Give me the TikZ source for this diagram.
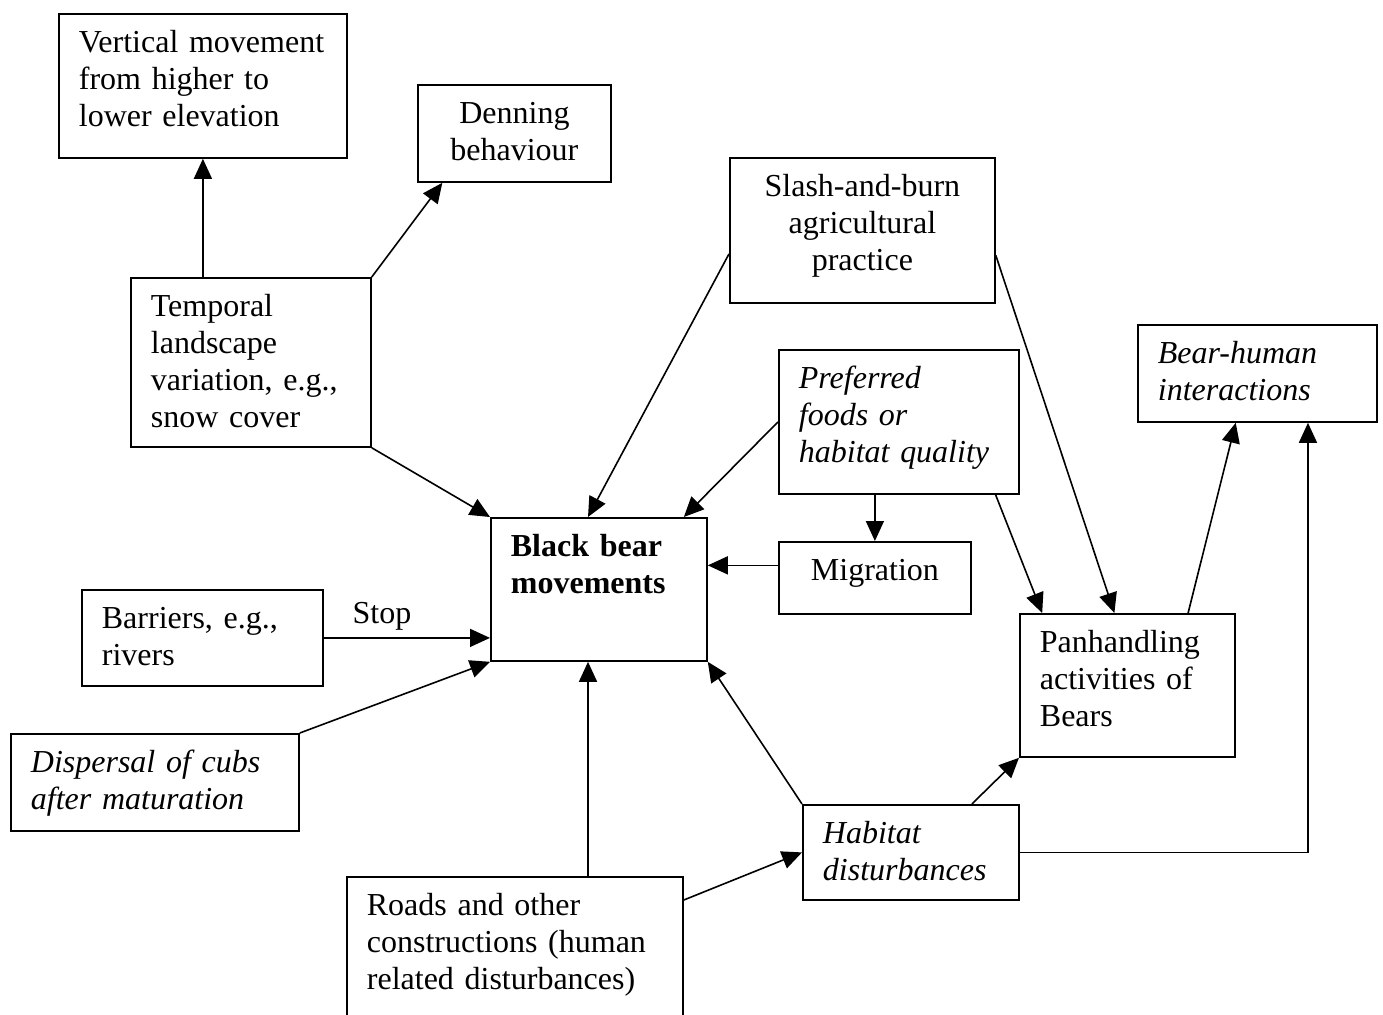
\documentclass[tikz,border=0pt]{standalone}
\usepackage{fontspec}
\setmainfont{Liberation Serif}
\usetikzlibrary{arrows.meta,calc}
\begin{document}
\begin{tikzpicture}[x=0.5pt,y=-0.5pt,
        every node/.style={font=\fontsize{16}{18.4}\selectfont},
        blk/.style={draw,line width=0.9pt,anchor=north west,inner xsep=10pt,inner ysep=0pt,align=left,text height=19.5pt},
        arr/.style={line width=0.8pt,-{Triangle[length=10pt,width=9pt]}}]
        \useasboundingbox (0,0) rectangle (1383,1014);

        \node[blk,text width=124pt,text depth=52.5pt] (vert) at (58,13) {Vertical movement\\from higher to\\lower elevation};
        \node[blk,align=center,text width=76.5pt,text depth=29pt] (den) at (417,84) {Denning\\behaviour};
        \node[blk,text width=100pt,text depth=65pt] (temp) at (130,277) {Temporal\\landscape\\variation, e.g.,\\snow cover};
        \node[blk,align=center,text width=112.5pt,text depth=53pt] (slash) at (729,157) {Slash-and-burn\\agricultural\\practice};
        \node[blk,text width=100pt,text depth=52.5pt,font=\fontsize{16}{18.4}\selectfont\itshape] (pref) at (778,349) {Preferred\\foods or\\habitat quality};
        \node[blk,text width=99.5pt,text depth=29pt,font=\fontsize{16}{18.4}\selectfont\itshape] (bh) at (1137,324) {Bear-human\\interactions};
        \node[blk,text width=88pt,text depth=52pt,font=\fontsize{16}{18.4}\selectfont\bfseries] (bbm) at (490,517) {Black bear\\movements};
        \node[blk,align=center,text width=76pt,text depth=16.5pt] (mig) at (778,541) {Migration};
        \node[blk,text width=100.5pt,text depth=28.5pt] (bar) at (81,589) {Barriers, e.g.,\\rivers};
        \node[blk,text width=87.5pt,text depth=52pt] (pan) at (1019,613) {Panhandling\\activities of\\Bears};
        \node[blk,text width=124pt,text depth=29pt,font=\fontsize{16}{18.4}\selectfont\itshape] (disp) at (10,733) {Dispersal of cubs\\after maturation};
        \node[blk,text width=88pt,text depth=28pt,font=\fontsize{16}{18.4}\selectfont\itshape] (hab) at (802,804) {Habitat\\disturbances};
        \node[blk,text width=148pt,text depth=58pt] (roads) at (346,876) {Roads and other\\constructions (human\\related disturbances)};

        \coordinate (migout) at ($(mig.north west)!0.33!(mig.south west)$);
        \coordinate (bbmin) at ($(bbm.south west)!0.45!(bbm.south east)$);

        \draw[arr] (temp.north -| vert.south) -- (vert.south);
        \draw[arr] (temp.north east) -- ($(den.south west)!0.13!(den.south east)$);
        \draw[arr] (temp.south east) -- (bbm.north west);
        \draw[arr] ($(slash.north west)!0.66!(slash.south west)$) -- ($(bbm.north west)!0.45!(bbm.north east)$);
        \draw[arr] (pref.west) -- ($(bbm.north west)!0.89!(bbm.north east)$);
        \draw[arr] (pref.south -| mig.north) -- (mig.north);
        \draw[arr] (migout) -- (migout -| bbm.east);
        \draw[arr] (bar.east) -- (bar.east -| bbm.west) node[pos=0.35,above] (stop) {Stop};
        \draw[arr] (disp.north east) -- (bbm.south west);
        \draw[arr] (roads.north -| bbmin) -- (bbmin);
        \draw[arr] ([yshift=-12pt]roads.north east) -- (hab.west);
        \draw[arr] (hab.north west) -- (bbm.south east);
        \draw[arr] ($(hab.north west)!0.78!(hab.north east)$) -- (pan.south west);
        \draw[arr] (hab.east) -| ($(bh.south west)!0.71!(bh.south east)$);
        \draw[arr] ($(pref.south west)!0.9!(pref.south east)$) -- ($(pan.north west)!0.107!(pan.north east)$);
        \draw[arr] ($(slash.north east)!0.67!(slash.south east)$) -- ($(pan.north west)!0.44!(pan.north east)$);
        \draw[arr] ($(pan.north west)!0.78!(pan.north east)$) -- ($(bh.south west)!0.41!(bh.south east)$);
\end{tikzpicture}
\end{document}
